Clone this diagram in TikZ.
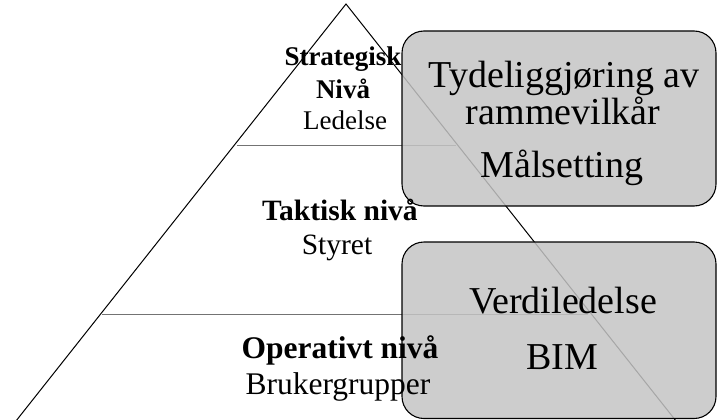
\documentclass[tikz,border=0pt]{standalone}
\usepackage{fontspec}
\setmainfont{Liberation Serif}
\begin{document}
\begin{tikzpicture}[x=1pt,y=-1pt,
  level/.style={draw=black!55, line width=1pt},
  infobox/.style={draw=black, line width=1.1pt, fill={rgb,255:red,196;green,196;blue,196},
                  fill opacity=0.85, rounded corners=22pt},
  pyrlabel/.style={anchor=base, inner sep=0pt, font=\fontsize{#1}{#1}\selectfont},
  pyrhead/.style={anchor=base, inner sep=0pt, font=\fontsize{#1}{#1}\selectfont\bfseries},
  boxlabel/.style={anchor=base, inner sep=0pt, font=\fontsize{38}{44}\selectfont}]
  \useasboundingbox (0,0) rectangle (717,420);
  \clip (0,0) rectangle (717,420);

  % pyramid outline and level separators
  \coordinate (apex) at (346,4);
  \coordinate (baseL) at (12,426);
  \coordinate (baseR) at (680,426);
  \draw[black, line width=1pt] (baseL) -- (apex) -- (baseR);
  \coordinate (s1a) at (237,145);
  \coordinate (s1b) at (456,145);
  \coordinate (s2a) at (102,314);
  \coordinate (s2b) at (588,314);
  \draw[level] (s1a) -- (s1b);
  \draw[level] (s2a) -- (s2b);

  % translucent side boxes
  \draw[infobox] (402,31) rectangle (716,206);
  \draw[infobox] (402,242) rectangle (716,418.5);

  % box texts
  \node[boxlabel] (t1) at (564,88) {Tydeliggjøring av};
  \node[boxlabel] (t2) at (563,124) {rammevilkår};
  \node[boxlabel] (t3) at (562,177) {Målsetting};
  \node[boxlabel] (t4) at (563,313) {Verdiledelse};
  \node[boxlabel] (t5) at (562,369) {BIM};

  % pyramid level labels
  \node[pyrhead=27]    (p1) at (343,66)  {Strategisk};
  \node[pyrhead=27]    (p2) at (343,98)  {Nivå};
  \node[pyrlabel=27]   (p3) at (345,129) {Ledelse};
  \node[pyrhead=29.5]  (p4) at (340,220) {Taktisk nivå};
  \node[pyrlabel=29.5] (p5) at (337,254) {Styret};
  \node[pyrhead=31.5]  (p6) at (340,358) {Operativt nivå};
  \node[pyrlabel=31.5] (p7) at (338,394) {Brukergrupper};
\end{tikzpicture}
\end{document}
